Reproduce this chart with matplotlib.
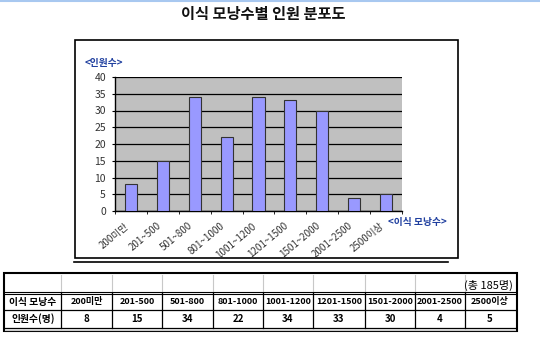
import matplotlib.pyplot as plt
import numpy as np

plt.rcParams['font.family'] = ['Noto Sans CJK KR', 'DejaVu Sans']

categories = ['200미만', '201-500', '501-800', '801-1000', '1001-1200',
              '1201-1500', '1501-2000', '2001-2500', '2500이상']
counts = [8, 15, 34, 22, 34, 33, 30, 4, 5]
tick_labels = ['200미만', '201~500', '501~800', '801~1000', '1001~1200',
               '1201~1500', '1501~2000', '2001~2500', '2500이상']
y_ticks = [0, 5, 10, 15, 20, 25, 30, 35, 40]

W, H = 540, 353
fig = plt.figure(figsize=(W / 100, H / 100), dpi=100, facecolor='white')

# background layer in pixel coordinates
bg = fig.add_axes([0, 0, 1, 1])
bg.set_xlim(0, W)
bg.set_ylim(H, 0)
bg.axis('off')

bg.plot([0, W], [0.5, 0.5], color='#a8c8f0', lw=1.5)
bg.text(263, 14, '이식 모낭수별 인원 분포도', ha='center', va='center',
        fontsize=11, fontweight='bold', color='#111111')

# chart frame
bg.add_patch(plt.Rectangle((75, 40), 383, 218, fill=False, ec='black', lw=1.2))
bg.text(85, 63, '<인원수>', ha='left', va='center', fontsize=7,
        color='#1f3f9f', fontweight='bold')
bg.text(388, 222, '<이식 모낭수>', ha='left', va='center', fontsize=7,
        color='#1f3f9f', fontweight='bold')
bg.plot([74, 448], [262, 262], color='black', lw=1.2)

# bar chart
ax = fig.add_axes([115 / W, 1 - 211 / H, (402 - 115) / W, (211 - 77) / H])
ax.set_facecolor('#c0c0c0')
x = np.arange(len(categories))
ax.bar(x, counts, width=0.38, color='#9999ff', edgecolor='#333333', lw=0.8, zorder=3)
ax.set_xlim(-0.5, len(categories) - 0.5)
ax.set_ylim(0, 40)
ax.set_yticks(y_ticks)
ax.set_yticklabels([str(v) for v in y_ticks], fontsize=7.5, color='#333333')
ax.yaxis.grid(True, color='black', lw=0.9, zorder=1)
ax.set_axisbelow(True)
ax.set_xticks(x - 0.2)
ax.set_xticklabels(tick_labels, rotation=40, ha='right', va='top',
                   rotation_mode='anchor', fontsize=7, color='#333333')
ax.set_xticks(np.arange(len(categories) + 1) - 0.5, minor=True)
ax.tick_params(axis='x', which='major', length=0, pad=7)
ax.tick_params(axis='x', which='minor', length=2.5, direction='out', color='black')
ax.tick_params(axis='y', length=2.5, direction='out', pad=4)
for s in ['top', 'right']:
    ax.spines[s].set_visible(False)
for s in ['left', 'bottom']:
    ax.spines[s].set_color('black')
    ax.spines[s].set_linewidth(1.0)

# table
col_edges = [5, 61, 112, 162, 213, 263, 313, 365, 415, 465, 515]
row_edges = [275, 293, 310, 328]
bg.add_patch(plt.Rectangle((4, 273), 513, 58, fill=False, ec='black', lw=1.5))
for cx in col_edges[1:-1]:
    bg.plot([cx, cx], [row_edges[0], row_edges[1]], color='#c8c8c8', lw=0.8)
    bg.plot([cx, cx], [row_edges[1], row_edges[3]], color='black', lw=0.9)
bg.plot([5, 515], [row_edges[1] - 1, row_edges[1] - 1], color='black', lw=0.8)
bg.plot([5, 515], [row_edges[1] + 1, row_edges[1] + 1], color='black', lw=0.8)
bg.plot([5, 515], [row_edges[2], row_edges[2]], color='black', lw=0.9)
bg.plot([5, 515], [row_edges[3], row_edges[3]], color='black', lw=0.9)
bg.plot([5, 515], [row_edges[3] + 2, row_edges[3] + 2], color='#c8c8c8', lw=0.8)

bg.text(513, (row_edges[0] + row_edges[1]) / 2 + 1, f'(총 {sum(counts)}명)',
        ha='right', va='center', fontsize=8, color='black')
header_y = (row_edges[1] + row_edges[2]) / 2
value_y = (row_edges[2] + row_edges[3]) / 2
bg.text((col_edges[0] + col_edges[1]) / 2, header_y, '이식 모낭수', ha='center',
        va='center', fontsize=7, fontweight='bold')
bg.text((col_edges[0] + col_edges[1]) / 2, value_y, '인원수(명)', ha='center',
        va='center', fontsize=7, fontweight='bold')
for i, (cat, n) in enumerate(zip(categories, counts)):
    cx = (col_edges[i + 1] + col_edges[i + 2]) / 2
    bg.text(cx, header_y, cat, ha='center', va='center', fontsize=6.5, fontweight='bold')
    bg.text(cx, value_y, str(n), ha='center', va='center', fontsize=7, fontweight='bold')

plt.savefig('out.png', dpi=100, facecolor='white')
plt.close()
